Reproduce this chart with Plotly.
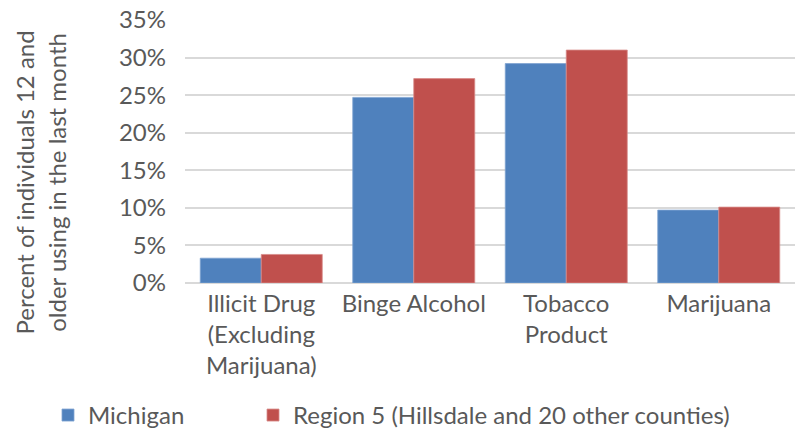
import plotly.graph_objects as go

categories = ["Illicit Drug<br>(Excluding<br>Marijuana)", "Binge Alcohol", "Tobacco<br>Product", "Marijuana"]
michigan = [0.033, 0.247, 0.292, 0.097]
region5 = [0.038, 0.272, 0.310, 0.101]
tick_vals = [0, 0.05, 0.10, 0.15, 0.20, 0.25, 0.30, 0.35]
tick_text = ["0%", "5%", "10%", "15%", "20%", "25%", "30%", "35%"]

FONT = "Lato"
GREY = "#595959"
SIZE = 24

fig = go.Figure()
fig.add_trace(go.Bar(name="Michigan", x=categories, y=michigan, legend="legend",
                     marker=dict(color="#4F81BD", line=dict(width=0.8, color="#7FA3D2"))))
fig.add_trace(go.Bar(name="Region 5 (Hillsdale and 20 other counties)", x=categories, y=region5,
                     legend="legend2",
                     marker=dict(color="#C0504D", line=dict(width=0.8, color="#D88C8A"))))

legend_font = dict(family=FONT, size=SIZE, color=GREY)

fig.update_layout(
    width=799, height=433,
    margin=dict(l=185, r=4, t=20, b=150, autoexpand=False),
    paper_bgcolor="white", plot_bgcolor="white",
    barmode="group", bargap=0.2, bargroupgap=0,
    font=dict(family=FONT, size=SIZE, color=GREY),
    showlegend=True,
    legend=dict(orientation="h", x=-0.2246, xanchor="left", y=-0.418, yanchor="top",
                font=legend_font, bgcolor="rgba(0,0,0,0)"),
    legend2=dict(orientation="h", x=0.1115, xanchor="left", y=-0.418, yanchor="top",
                 font=legend_font, bgcolor="rgba(0,0,0,0)"),
    yaxis=dict(range=[0, 0.35], tickvals=tick_vals, ticktext=tick_text, automargin=False,
               showgrid=True, gridcolor="#D9D9D9", gridwidth=1.5,
               zeroline=True, zerolinecolor="#D9D9D9", zerolinewidth=1.5,
               showline=False, ticks="", ticklabelstandoff=18,
               tickfont=dict(family=FONT, size=SIZE, color=GREY)),
    xaxis=dict(showline=False, ticks="", showgrid=False, automargin=False,
               ticklabelstandoff=4,
               tickfont=dict(family=FONT, size=SIZE, color=GREY), tickangle=0),
    annotations=[dict(text="Percent of individuals 12 and<br>older using in the last month",
                      xref="paper", yref="paper", x=-0.2377, y=0.382,
                      xanchor="center", yanchor="middle", textangle=-90,
                      showarrow=False, font=dict(family=FONT, size=SIZE, color=GREY))],
)

fig.write_html("out.html")
